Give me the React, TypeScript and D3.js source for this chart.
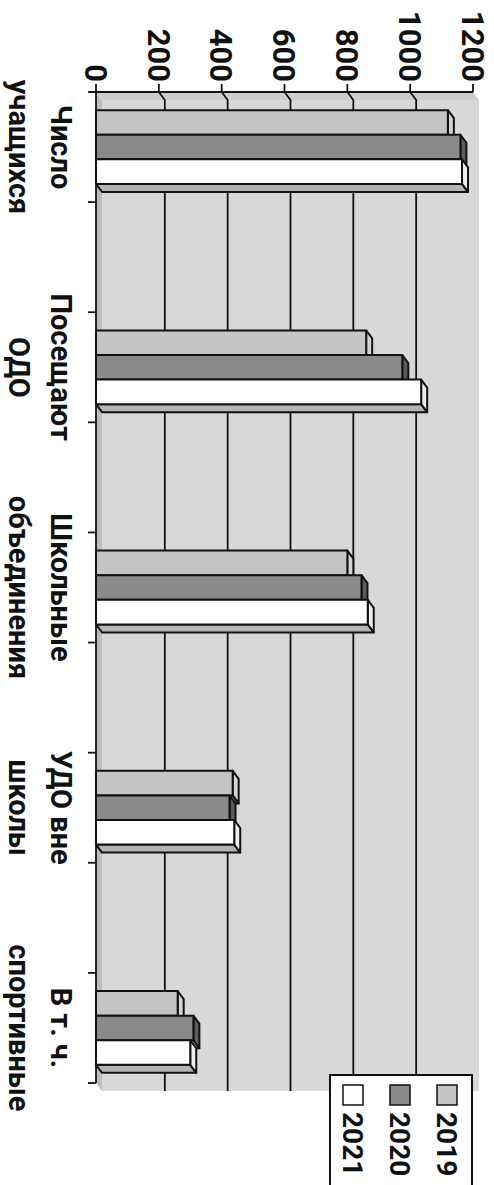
import React from "react";
import * as d3 from "d3";

// categories (two lines each), series and values
const categories = [
  ["Число", "учащихся"],
  ["Посещают", "ОДО"],
  ["Школьные", "объединения"],
  ["УДО вне", "школы"],
  ["В т. ч.", "спортивные"],
];
const years = ["2019", "2020", "2021"];
const values2019 = [1120, 860, 800, 435, 260];
const values2020 = [1160, 975, 845, 425, 310];
const values2021 = [1165, 1035, 865, 440, 300];
const valueTicks = [0, 200, 400, 600, 800, 1000, 1200];

const width = 494;
const height = 1185;
const dx = 6;
const dy = 8;
const font = "Roboto, 'Open Sans', sans-serif";

const fills: Record<string, string> = { "2019": "#c4c4c4", "2020": "#8a8a8a", "2021": "#ffffff" };
const capFills: Record<string, string> = { "2019": "#d4d4d4", "2020": "#5c5c5c", "2021": "#ededed" };

// empty slots sit between the categories, as in the original
const slots = categories.flatMap((c, i) =>
  i < categories.length - 1 ? [c.join(" "), `gap-${i}`] : [c.join(" ")]
);
const seriesValues = [values2019, values2020, values2021];

const x = d3.scaleLinear().domain([0, 1200]).range([96, 473]);
const y = d3
  .scaleBand()
  .domain(slots)
  .range([92, 1083])
  .paddingInner(0.33)
  .paddingOuter(0.165);
const yInner = d3.scaleBand().domain(years).range([0, y.bandwidth()]);
const legendX = d3.scalePoint().domain(years).range([437, 343]);

const top = 92;
const bottom = 1083;
const slotTicks = d3.range(slots.length + 1).map((k) => top + k * y.step());

const App = () => {
  const x0 = x(0);
  const x1 = x(1200);
  return (
    <svg
      width={width}
      height={height}
      style={{ position: "absolute", left: 0, top: 0, background: "#fff" }}
      fontFamily={font}
      fontWeight="bold"
    >
      {/* walls */}
      <rect x={x0 + dx} y={top + dy} width={x1 - x0} height={bottom - top} fill="#d8d8d8" />
      <polygon
        points={`${x0},${top} ${x0 + dx},${top + dy} ${x0 + dx},${bottom + dy} ${x0},${bottom}`}
        fill="#bcbcbc"
      />
      <polygon
        points={`${x0},${top} ${x1},${top} ${x1 + dx},${top + dy} ${x0 + dx},${top + dy}`}
        fill="#cdcdcd"
      />

      {/* gridlines on the back wall */}
      {valueTicks.slice(1, -1).map((t) => (
        <g key={t} stroke="#111" strokeWidth={1.8} fill="none">
          <path d={`M${x(t)},${top}L${x(t) + dx},${top + dy}V${bottom + dy}`} />
        </g>
      ))}

      {/* value axis */}
      <line x1={x0 - 6} x2={x1} y1={top} y2={top} stroke="#111" strokeWidth={1.8} />
      {valueTicks.map((t) => (
        <g key={t}>
          <line x1={x(t)} x2={x(t)} y1={top - 8} y2={top} stroke="#111" strokeWidth={1.8} />
          <text
            transform={`translate(${x(t)},${top - 10}) rotate(90)`}
            textAnchor="end"
            dy="0.36em"
            fontSize={31}
            fill="#111"
          >
            {t}
          </text>
        </g>
      ))}

      {/* category axis */}
      <line x1={x0} x2={x0} y1={top} y2={bottom} stroke="#111" strokeWidth={1.8} />
      {slotTicks.map((t, i) => (
        <line key={i} x1={x0 - 8} x2={x0} y1={t} y2={t} stroke="#111" strokeWidth={1.8} />
      ))}

      {/* bars */}
      {categories.map((c, ci) => {
        const y0 = y(c.join(" "))!;
        return (
          <g key={ci}>
            {years.map((yr, si) => {
              const v = seriesValues[si][ci];
              const yt = y0 + yInner(yr)!;
              const yb = yt + yInner.bandwidth();
              const xe = x(v);
              return (
                <g key={yr} stroke="#111" strokeWidth={2} strokeLinejoin="round">
                  <polygon
                    points={`${x0},${yb} ${xe},${yb} ${xe + dx},${yb + dy} ${x0 + dx},${yb + dy}`}
                    fill="#b4b4b4"
                  />
                  <polygon
                    points={`${xe},${yt} ${xe + dx},${yt + dy} ${xe + dx},${yb + dy} ${xe},${yb}`}
                    fill={capFills[yr]}
                  />
                  <rect x={x0} y={yt} width={xe - x0} height={yb - yt} fill={fills[yr]} />
                </g>
              );
            })}
          </g>
        );
      })}

      {/* category labels */}
      {categories.map((c) => {
        const yc = y(c.join(" "))! + y.bandwidth() / 2;
        return (
          <g key={c.join(" ")} fontSize={29} fill="#111">
            <text transform={`translate(51,${yc}) rotate(90)`} textAnchor="middle">
              {c[0]}
            </text>
            <text transform={`translate(9,${yc}) rotate(90)`} textAnchor="middle">
              {c[1]}
            </text>
          </g>
        );
      })}

      {/* legend */}
      <rect x={330} y={1075} width={142} height={130} fill="#fff" stroke="#111" strokeWidth={2} />
      {years.map((yr) => (
        <g key={yr}>
          <rect
            x={legendX(yr)}
            y={1085}
            width={20}
            height={20}
            fill={fills[yr]}
            stroke="#111"
            strokeWidth={1.5}
          />
          <text
            transform={`translate(${legendX(yr)},1112) rotate(90)`}
            fontSize={28}
            fill="#111"
          >
            {yr}
          </text>
        </g>
      ))}
    </svg>
  );
};

export default App;
